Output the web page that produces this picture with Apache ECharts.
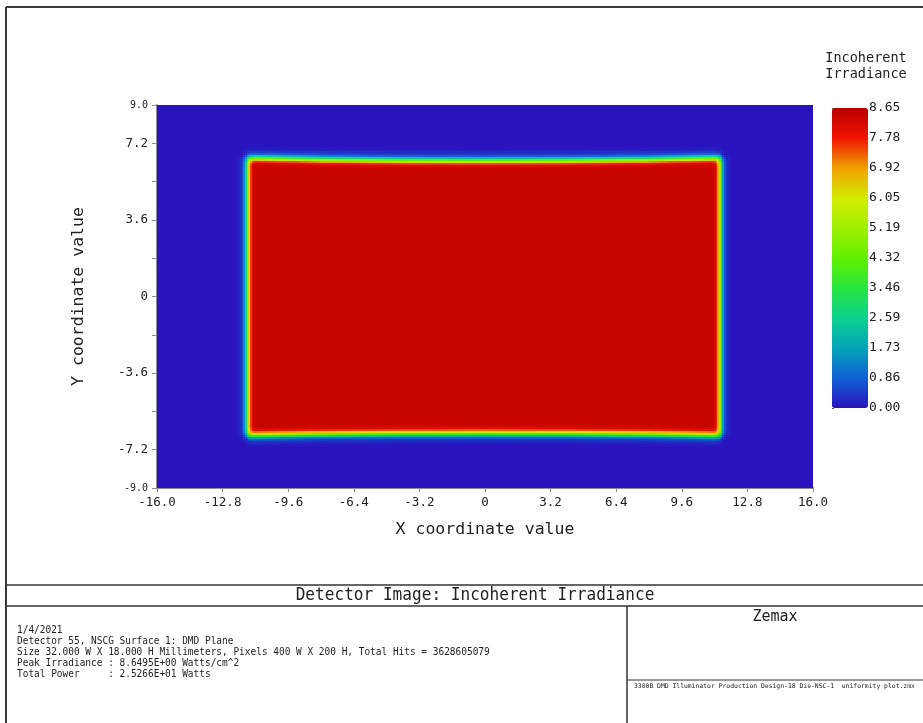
<!DOCTYPE html>
<html>
<head>
<meta charset="utf-8">
<script src="https://cdn.jsdelivr.net/npm/echarts@6/dist/echarts.min.js"></script>
<style>
html,body{margin:0;padding:0;background:#fff;}
#chart{width:923px;height:723px;}
</style>
</head>
<body>
<div id="chart"></div>
<script>
// ---- Detector description ----
const xRange = [-16, 16];          // mm
const yRange = [-9, 9];            // mm
const pixelsX = 400;
const pixelsY = 200;
const xTickStep = 3.2;
const yTickStep = 1.8;
const yLabelStep = 3.6;

// lit rectangle (50% edge positions, mm)
const litLeft = -11.58;
const litRight = 11.52;
const edgeSampleX = [-11.5, -8, -4, 0, 4, 8, 11.5];
const topEdgeY    = [6.55, 6.48, 6.44, 6.43, 6.44, 6.48, 6.55];
const bottomEdgeY = [-6.50, -6.45, -6.42, -6.41, -6.42, -6.45, -6.50];
const plateauIrradiance = 8.4;     // W/cm^2 inside the lit area

// edge profile: distance inside the edge (mm) -> fraction of plateau
const edgeDist = [-0.6, -0.4, -0.26, -0.16, -0.08, 0, 0.08, 0.16, 0.26, 0.4];
const edgeFrac = [0.0, 0.02, 0.05, 0.12, 0.3, 0.5, 0.72, 0.88, 0.97, 1.0];

// colour bar
const peakIrradiance = 8.6495;
const colorStops = ['#2a12bc', '#1060d4', '#04a4b8', '#0cd090', '#28e640', '#60f000',
                    '#a0f000', '#d2ec00', '#f0a000', '#f01400', '#b80000'];

const infoLines = [
  '1/4/2021',
  'Detector 55, NSCG Surface 1: DMD Plane',
  'Size 32.000 W X 18.000 H Millimeters, Pixels 400 W X 200 H, Total Hits = 3628605079',
  'Peak Irradiance : 8.6495E+00 Watts/cm^2',
  'Total Power     : 2.5266E+01 Watts'
];
const plotTitle = 'Detector Image: Incoherent Irradiance';
const fileName = '3300B DMD Illuminator Production Design-18 Die-NSC-1  uniformity plot.zmx';

// ---- build detector cells (runs of equal value along each row) ----
function lookup(v, xs, ys) {
  if (v <= xs[0]) return ys[0];
  if (v >= xs[xs.length - 1]) return ys[ys.length - 1];
  for (let k = 1; k < xs.length; k++) {
    if (v <= xs[k]) {
      const t = (v - xs[k - 1]) / (xs[k] - xs[k - 1]);
      return ys[k - 1] + t * (ys[k] - ys[k - 1]);
    }
  }
  return ys[ys.length - 1];
}
const dx = (xRange[1] - xRange[0]) / pixelsX;
const dy = (yRange[1] - yRange[0]) / pixelsY;
const cells = []; // [x0, x1, yCenter, value]
for (let j = 0; j < pixelsY; j++) {
  const y = yRange[0] + (j + 0.5) * dy;
  let runStart = 0, runVal = null;
  for (let i = 0; i <= pixelsX; i++) {
    let v = null;
    if (i < pixelsX) {
      const x = xRange[0] + (i + 0.5) * dx;
      const fx = Math.min(lookup(x - litLeft, edgeDist, edgeFrac), lookup(litRight - x, edgeDist, edgeFrac));
      const top = lookup(x, edgeSampleX, topEdgeY);
      const bot = lookup(x, edgeSampleX, bottomEdgeY);
      const fy = Math.min(lookup(top - y, edgeDist, edgeFrac), lookup(y - bot, edgeDist, edgeFrac));
      v = Math.round(plateauIrradiance * fx * fy * 100) / 100;
    }
    if (v !== runVal) {
      if (runVal !== null) {
        cells.push([xRange[0] + runStart * dx, xRange[0] + i * dx, y, runVal]);
      }
      runStart = i; runVal = v;
    }
  }
}

const MONO = '"DejaVu Sans Mono", monospace';
const chart = echarts.init(document.getElementById('chart'), null, {renderer: 'canvas'});

chart.setOption({
  animation: false,
  backgroundColor: '#ffffff',
  grid: [
    {left: 157, top: 105, width: 656, height: 383, containLabel: false},
    {left: 832, top: 108, width: 36, height: 300, containLabel: false}
  ],
  xAxis: [
    {type: 'value', gridIndex: 0, min: xRange[0], max: xRange[1], interval: xTickStep, position: 'bottom',
     name: 'X coordinate value', nameLocation: 'middle', nameGap: 33,
     nameTextStyle: {fontFamily: MONO, fontSize: 16.5, color: '#222'},
     axisLine: {show: true, onZero: false, lineStyle: {color: '#8a8a9a', width: 2}},
     axisTick: {show: true, length: 4, lineStyle: {color: '#8a8a9a'}},
     splitLine: {show: false},
     axisLabel: {fontFamily: MONO, fontSize: 12.5, color: '#222', margin: 8,
       formatter: v => Math.abs(v) < 1e-9 ? '0' : v.toFixed(1)}},
    {type: 'value', gridIndex: 1, show: false, min: 0, max: 1}
  ],
  yAxis: [
    {type: 'value', gridIndex: 0, min: yRange[0], max: yRange[1], interval: yTickStep, position: 'left',
     name: 'Y coordinate value', nameLocation: 'middle', nameGap: 70,
     nameTextStyle: {fontFamily: MONO, fontSize: 16.5, color: '#222'},
     axisLine: {show: true, onZero: false, lineStyle: {color: '#8a8a9a', width: 2}},
     axisTick: {show: true, length: 5, lineStyle: {color: '#8a8a9a'}},
     splitLine: {show: false},
     axisLabel: {fontFamily: MONO, fontSize: 12.5, color: '#222', margin: 9,
       formatter: function (v) {
         if (Math.abs(Math.abs(v) - 9) < 1e-6) return '{s|' + v.toFixed(1) + '}';
         const q = v / yLabelStep;
         if (Math.abs(q - Math.round(q)) < 1e-6) return Math.abs(v) < 1e-9 ? '0' : v.toFixed(1);
         return '';
       },
       rich: {s: {fontFamily: MONO, fontSize: 10, color: '#222'}}}},
    {type: 'value', gridIndex: 1, min: 0, max: peakIrradiance, interval: peakIrradiance / 10, position: 'right',
     axisLine: {show: false},
     axisTick: {show: true, length: 2, lineStyle: {color: '#555'}},
     splitLine: {show: false},
     axisLabel: {fontFamily: MONO, fontSize: 13, color: '#222', margin: 1,
       formatter: v => v.toFixed(2)}}
  ],
  visualMap: {
    type: 'continuous', min: 0, max: peakIrradiance, seriesIndex: 0, dimension: 3,
    left: 832, top: 108, itemWidth: 36, itemHeight: 300, padding: 0,
    calculable: false, realtime: false, hoverLink: false, text: null,
    inRange: {color: colorStops}
  },
  series: [{
    type: 'custom', xAxisIndex: 0, yAxisIndex: 0, data: cells, silent: true,
    encode: {x: [0, 1], y: 2},
    clip: true,
    renderItem: function (params, api) {
      const p0 = api.coord([api.value(0), api.value(2) + dy / 2]);
      const p1 = api.coord([api.value(1), api.value(2) - dy / 2]);
      const x0 = Math.floor(p0[0]), y0 = Math.floor(p0[1]);
      const x1 = Math.ceil(p1[0]), y1 = Math.ceil(p1[1]);
      return {
        type: 'rect',
        shape: {x: x0, y: y0, width: x1 - x0, height: y1 - y0},
        style: {fill: api.visual('color')}
      };
    }
  }],
  graphic: [
    {type: 'line', shape: {x1: 6, y1: 7, x2: 923, y2: 7}, style: {stroke: '#3a3a3a', lineWidth: 2}},
    {type: 'line', shape: {x1: 6, y1: 7, x2: 6, y2: 723}, style: {stroke: '#3a3a3a', lineWidth: 2}},
    {type: 'line', shape: {x1: 6, y1: 585, x2: 923, y2: 585}, style: {stroke: '#333', lineWidth: 1.5}},
    {type: 'line', shape: {x1: 6, y1: 606, x2: 923, y2: 606}, style: {stroke: '#333', lineWidth: 1.5}},
    {type: 'line', shape: {x1: 627, y1: 606, x2: 627, y2: 723}, style: {stroke: '#333', lineWidth: 1.5}},
    {type: 'line', shape: {x1: 627, y1: 680, x2: 923, y2: 680}, style: {stroke: '#333', lineWidth: 1}},
    {type: 'text', x: 475, y: 586, scaleX: 0.92,
     style: {text: plotTitle, font: '17.5px ' + MONO, fill: '#222', textAlign: 'center'}},
    {type: 'text', x: 866, y: 50, style: {text: 'Incoherent\nIrradiance', font: '13.5px ' + MONO, fill: '#222',
      textAlign: 'center', lineHeight: 16}},
    {type: 'text', x: 17, y: 625, scaleX: 0.86,
     style: {text: infoLines.join('\n'), font: '11px ' + MONO, fill: '#222', lineHeight: 11}},
    {type: 'text', x: 775, y: 610, style: {text: 'Zemax', font: '15px ' + MONO, fill: '#222', textAlign: 'center'}},
    {type: 'text', x: 634, y: 683, style: {text: fileName, font: '6.4px ' + MONO, fill: '#222'}}
  ]
});
</script>
</body>
</html>
